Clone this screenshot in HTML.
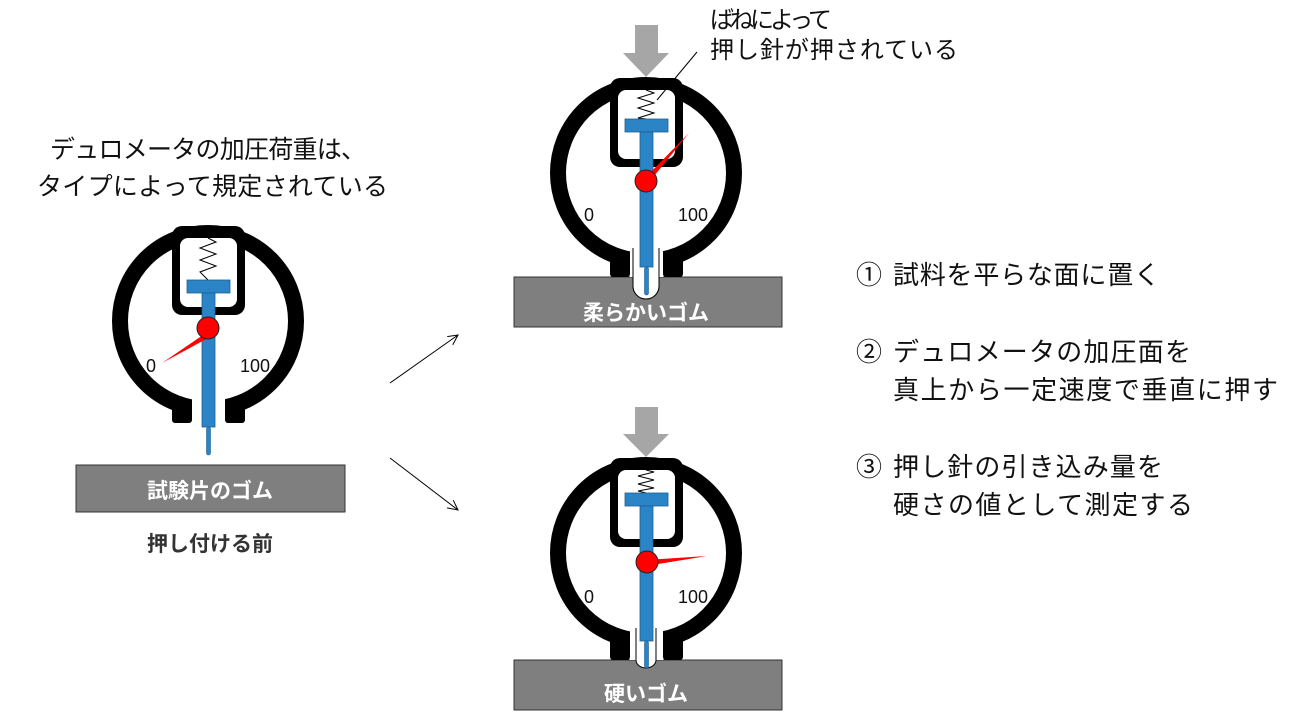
<!DOCTYPE html>
<html><head><meta charset="utf-8"><style>
html,body{margin:0;padding:0;background:#fff;}
svg{display:block;}
text{font-family:"Liberation Sans","Noto Sans CJK JP",sans-serif;}
</style></head><body>
<svg width="1295" height="720" viewBox="0 0 1295 720" xmlns="http://www.w3.org/2000/svg">
<defs>
<marker id="ah" markerWidth="12" markerHeight="12" refX="10" refY="5" orient="auto" markerUnits="userSpaceOnUse">
<path d="M0,0 L10,5 L0,10" fill="none" stroke="#000" stroke-width="1"/>
</marker>
</defs>

<text x="50" y="158" font-size="25" textLength="316" fill="#111">デュロメータの加圧荷重は、</text>
<text x="37" y="195" font-size="25" textLength="351" fill="#111">タイプによって規定されている</text>
<text x="710" y="28" font-size="24" textLength="122" fill="#111">ばねによって</text>
<text x="710" y="58" font-size="24" textLength="248" fill="#111">押し針が押されている</text>

<text x="856" y="284" font-size="26" fill="#111">①</text>
<text x="893" y="284" font-size="26" textLength="267" fill="#111">試料を平らな面に置く</text>
<text x="856" y="361" font-size="26" fill="#111">②</text>
<text x="893" y="361" font-size="26" textLength="298" fill="#111">デュロメータの加圧面を</text>
<text x="893" y="399" font-size="26" textLength="385" fill="#111">真上から一定速度で垂直に押す</text>
<text x="856" y="476" font-size="26" fill="#111">③</text>
<text x="893" y="476" font-size="26" textLength="270" fill="#111">押し針の引き込み量を</text>
<text x="893" y="514" font-size="26" textLength="300" fill="#111">硬さの値として測定する</text>

<line x1="390" y1="383" x2="458" y2="335" stroke="#000" stroke-width="1" marker-end="url(#ah)"/>
<line x1="390" y1="458" x2="458" y2="510" stroke="#000" stroke-width="1" marker-end="url(#ah)"/>

<rect x="76" y="465" width="269" height="47" fill="#7f7f7f" stroke="#333" stroke-width="1"/>
<text x="210" y="498" font-size="21" font-weight="bold" fill="#fff" text-anchor="middle">試験片のゴム</text>
<text x="210" y="551" font-size="21" font-weight="bold" fill="#333" text-anchor="middle">押し付ける前</text>

<rect x="514" y="277" width="268" height="50" fill="#7f7f7f" stroke="#333" stroke-width="1"/>
<path d="M633,277 L633,286 A13,13 0 0 0 659,286 L659,277" fill="#fff" stroke="#000" stroke-width="1"/>
<text x="646" y="320" font-size="21" font-weight="bold" fill="#fff" text-anchor="middle">柔らかいゴム</text>

<rect x="514" y="660" width="268" height="50" fill="#7f7f7f" stroke="#333" stroke-width="1"/>
<path d="M636,660 A10,8 0 0 0 656,660" fill="#fff" stroke="#000" stroke-width="1"/>
<text x="646" y="701" font-size="21" font-weight="bold" fill="#fff" text-anchor="middle">硬いゴム</text>

<path d="M635,25 L658,25 L658,53 L669,53 L646,77 L623,53 L635,53 Z" fill="#a6a6a6"/>
<path d="M635,407 L658,407 L658,434 L669,434 L646,457 L623,434 L635,434 Z" fill="#a6a6a6"/>

<g transform="translate(208,321)">
  <rect x="-36" y="78" width="20" height="24" rx="3" fill="#000"/>
  <rect x="17" y="78" width="20" height="24" rx="3" fill="#000"/>
  <circle cx="0" cy="0" r="88" fill="#fff" stroke="#000" stroke-width="16"/>
  <rect x="-16" y="60" width="33" height="50" fill="#fff"/>
  <rect x="-36" y="-95" width="73" height="89" rx="10" fill="#000"/>
  <rect x="-28" y="-83" width="57" height="69" rx="8" fill="#fff"/>
  <polyline points="0,-83 8,-79 -8,-73 8,-67 -8,-61 8,-55 -8,-49 0,-41" fill="none" stroke="#000" stroke-width="1"/>
  <text x="-62" y="51" font-size="18" fill="#111">0</text>
  <text x="32" y="51" font-size="18" fill="#111">100</text>
  <rect x="-21" y="-41" width="43" height="13" fill="#2a84c6" stroke="#1f5f8f" stroke-width="0.8"/>
  <rect x="-6" y="-28" width="13" height="134" fill="#2a84c6" stroke="#1f5f8f" stroke-width="0.8"/>
  <rect x="-1.5" y="106" width="4" height="28" rx="2" fill="#2a84c6" stroke="#1f5f8f" stroke-width="0.6"/>
  <polygon points="-2,12 2,16 -46,42" fill="#f00"/>
  <circle cx="0" cy="7" r="11" fill="#f00" stroke="#222" stroke-width="1"/>
</g>

<g transform="translate(646,173)">
  <rect x="-36" y="78" width="20" height="26" rx="3" fill="#000"/>
  <rect x="17" y="78" width="20" height="26" rx="3" fill="#000"/>
  <circle cx="0" cy="0" r="88" fill="#fff" stroke="#000" stroke-width="16"/>
  <rect x="-16" y="60" width="33" height="44" fill="#fff"/>
  <path d="M-13,75 L-13,113 A13,13 0 0 0 13,113 L13,75" fill="#fff" stroke="#000" stroke-width="1"/>
  <rect x="-36" y="-95" width="73" height="89" rx="10" fill="#000"/>
  <rect x="-28" y="-83" width="57" height="69" rx="8" fill="#fff"/>
  <polyline points="0,-83 8,-80 -8,-75 8,-70 -8,-65 8,-60 -8,-55 0,-54" fill="none" stroke="#000" stroke-width="1"/>
  <text x="-62" y="48" font-size="18" fill="#111">0</text>
  <text x="32" y="48" font-size="18" fill="#111">100</text>
  <rect x="-21" y="-54" width="43" height="13" fill="#2a84c6" stroke="#1f5f8f" stroke-width="0.8"/>
  <rect x="-6" y="-41" width="13" height="135" fill="#2a84c6" stroke="#1f5f8f" stroke-width="0.8"/>
  <rect x="-1.5" y="94" width="4" height="28" rx="2" fill="#2a84c6" stroke="#1f5f8f" stroke-width="0.6"/>
  <polygon points="0,4 4,8 43,-40" fill="#f00"/>
  <circle cx="0" cy="8" r="11" fill="#f00" stroke="#222" stroke-width="1"/>
</g>
<line x1="697" y1="52" x2="657" y2="100" stroke="#000" stroke-width="1"/>

<g transform="translate(646,553)">
  <rect x="-36" y="80" width="20" height="27" rx="3" fill="#000"/>
  <rect x="17" y="80" width="20" height="27" rx="3" fill="#000"/>
  <circle cx="0" cy="0" r="88" fill="#fff" stroke="#000" stroke-width="16"/>
  <rect x="-16" y="60" width="33" height="47" fill="#fff"/>
  <path d="M-10,75 L-10,107 M10,75 L10,107" stroke="#000" stroke-width="1"/>
  <rect x="-36" y="-95" width="73" height="89" rx="10" fill="#000"/>
  <rect x="-28" y="-83" width="57" height="69" rx="8" fill="#fff"/>
  <polyline points="0,-83 8,-81 -8,-77 8,-73 -8,-69 8,-65 -8,-62 0,-60" fill="none" stroke="#000" stroke-width="1"/>
  <text x="-62" y="50" font-size="18" fill="#111">0</text>
  <text x="32" y="50" font-size="18" fill="#111">100</text>
  <rect x="-21" y="-60" width="43" height="13" fill="#2a84c6" stroke="#1f5f8f" stroke-width="0.8"/>
  <rect x="-6" y="-47" width="13" height="135" fill="#2a84c6" stroke="#1f5f8f" stroke-width="0.8"/>
  <rect x="-1.5" y="88" width="4" height="27" rx="2" fill="#2a84c6" stroke="#1f5f8f" stroke-width="0.6"/>
  <polygon points="0,7 0,13 61,3" fill="#f00"/>
  <circle cx="1" cy="9" r="11" fill="#f00" stroke="#222" stroke-width="1"/>
</g>
</svg>
</body></html>
